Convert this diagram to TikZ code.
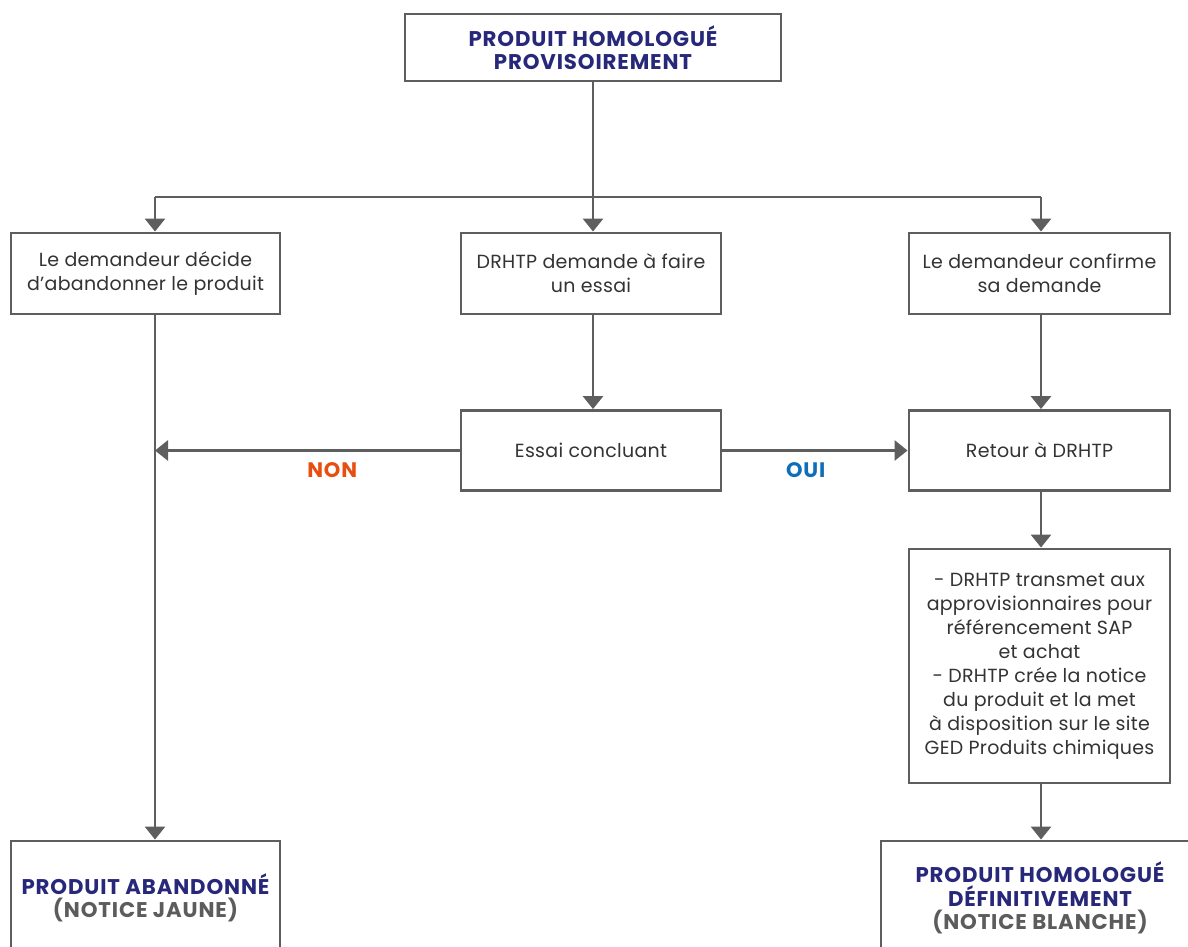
\documentclass[tikz,border=0pt]{standalone}
\usepackage{fontspec}
\setmainfont{Poppins}
\newfontfamily\boldwide[LetterSpace=4]{Poppins Bold}
\newfontfamily\bodywide[LetterSpace=1.5]{Poppins}
\usetikzlibrary{arrows.meta}
\definecolor{navy}{HTML}{28287A}
\definecolor{linegray}{HTML}{5E5E5E}
\definecolor{txtgray}{HTML}{5C5C5C}
\definecolor{bodytxt}{HTML}{333333}
\definecolor{nonred}{HTML}{E84E0F}
\definecolor{ouiblue}{HTML}{0E6EB8}
\tikzset{
  box/.style={draw=linegray, line width=2.9pt, fill=white, align=center, inner sep=0pt, text=bodytxt,
    font=\bodywide\fontsize{19}{24}\selectfont},
  title/.style={box, text=navy, font=\boldwide\fontsize{21.3}{23.5}\selectfont},
  conn/.style={draw=linegray, line width=2.9pt},
  arr/.style={conn, -{Triangle[width=20pt,length=13pt]}},
  lbl/.style={font=\boldwide\fontsize{21}{22}\selectfont}
}
\begin{document}
\begin{tikzpicture}[x=1pt,y=-1pt]
\useasboundingbox (0,0) rectangle (1188,946);
\clip (0,0) rectangle (1188,946);
\fill[white] (0,0) rectangle (1188,946);
\node[title, minimum width=376pt, minimum height=67pt] (top) at (593,47.5) {PRODUIT HOMOLOGUÉ\\PROVISOIREMENT};
\node[box, minimum width=269pt, minimum height=81pt] (L1) at (145.5,273.5) {\raisebox{-3pt}{\parbox{260pt}{\centering Le demandeur décide\\d’abandonner le produit}}};
\node[box, minimum width=260pt, minimum height=81pt] (M1) at (591,273.5) {\raisebox{-2pt}{\parbox{255pt}{\centering DRHTP demande à faire\\un essai}}};
\node[box, minimum width=261pt, minimum height=81pt] (R1) at (1039.5,273.5) {\raisebox{-2pt}{\parbox{255pt}{\centering Le demandeur confirme\\sa demande}}};
\node[box, minimum width=260pt, minimum height=80pt] (essai) at (591,450.5) {Essai concluant};
\node[box, minimum width=261pt, minimum height=80pt] (retour) at (1039.5,450.5) {Retour à DRHTP};
\node[box, minimum width=261pt, minimum height=234pt] (list) at (1039.5,666) {- DRHTP transmet aux\\approvisionnaires pour\\référencement SAP\\et achat\\- DRHTP crée la notice\\du produit et la met\\à disposition sur le site\\GED Produits chimiques};
\node[title, minimum width=269pt, minimum height=114pt] (BL) at (145.5,898) {PRODUIT ABANDONNÉ\\\textcolor{txtgray}{(NOTICE JAUNE)}};
\node[title, minimum width=318pt, minimum height=114pt] (BR) at (1040,898) {PRODUIT HOMOLOGUÉ\\DÉFINITIVEMENT\\\textcolor{txtgray}{(NOTICE BLANCHE)}};
\coordinate (busL) at (155,197);
\coordinate (busR) at (1041,197);
\draw[conn] (busL) -- (busR);
\draw[arr] (top.south) -- (top.south |- M1.north);
\draw[arr] (busL) -- (busL |- L1.north);
\draw[arr] (busR) -- (busR |- R1.north);
\draw[arr] (M1.south -| top.south) -- (essai.north -| top.south);
\draw[arr] (R1.south -| busR) -- (retour.north -| busR);
\draw[arr] (retour.south -| busR) -- (list.north -| busR);
\draw[arr] (list.south -| busR) -- (BR.north -| busR);
\draw[arr] (L1.south -| busL) -- (BL.north -| busL);
\draw[arr] (essai.west) -- (essai.west -| busL) node[pos=0.418, yshift=-20pt, lbl, text=nonred] {NON};
\draw[arr] (essai.east) -- (essai.east -| retour.west) node[pos=0.45, yshift=-20pt, lbl, text=ouiblue] {OUI};
\end{tikzpicture}
\end{document}
